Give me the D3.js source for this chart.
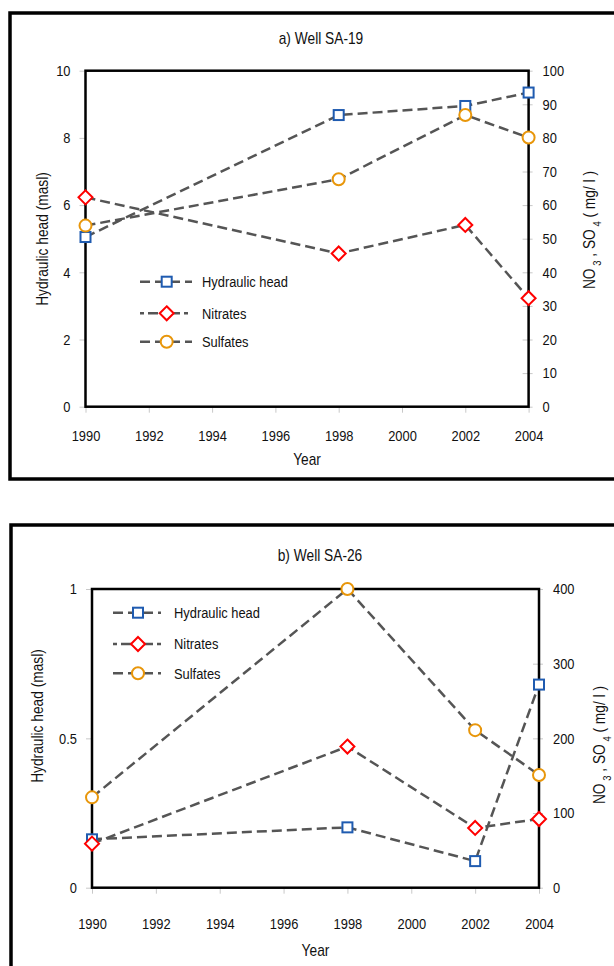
<!DOCTYPE html>
<html>
<head>
<meta charset="utf-8">
<script src="https://cdn.jsdelivr.net/npm/d3@7"></script>
<style>
  body { margin: 0; background: #fff; }
  svg text { font-family: "Liberation Sans", Arial, sans-serif; fill: #111; }
</style>
</head>
<body>
<div id="container"></div>
<script>
const years = [1990, 1998, 2002, 2004]
const yearTicks = [1990, 1992, 1994, 1996, 1998, 2000, 2002, 2004]

// a) Well SA-19
const headA = [5.05, 8.68, 8.95, 9.35]
const nitratesA = [62.3, 45.6, 54.1, 32.3]
const sulfatesA = [53.9, 67.7, 86.8, 80.1]
const headTicksA = [0, 2, 4, 6, 8, 10]
const chemTicksA = [0, 10, 20, 30, 40, 50, 60, 70, 80, 90, 100]

// b) Well SA-26
const headB = [0.162, 0.202, 0.089, 0.680]
const nitratesB = [59, 189, 80, 92]
const sulfatesB = [121, 400, 211, 151]
const headTicksB = [0, 0.5, 1]
const chemTicksB = [0, 100, 200, 300, 400]

const seriesNames = ["Hydraulic head", "Nitrates", "Sulfates"]

const width = 614
const height = 966
const lineColor = "#555"
const tickColor = "#c8c8c8"
const narrow = 0.86   // the original font is a condensed Arial

const svg = d3.create("svg")
    .attr("width", width)
    .attr("height", height)

function marker(g, kind, x, y){
    if(kind == 0){
        g.append("rect")
            .attr("x", x - 5).attr("y", y - 5)
            .attr("width", 10).attr("height", 10)
            .attr("fill", "#fff")
            .attr("stroke", "#1f5bb0")
            .attr("stroke-width", 2)
    } else if(kind == 1){
        g.append("path")
            .attr("d", `M${x},${y - 7}L${x + 7},${y}L${x},${y + 7}L${x - 7},${y}Z`)
            .attr("fill", "#fff")
            .attr("stroke", "#ff0000")
            .attr("stroke-width", 2)
    } else {
        g.append("circle")
            .attr("cx", x).attr("cy", y).attr("r", 6)
            .attr("fill", "#fff")
            .attr("stroke", "#e8960a")
            .attr("stroke-width", 2)
    }
}

function label(g, x, y, txt, size, rotate){
    return g.append("text")
        .attr("transform", `translate(${x}, ${y})${rotate ? " rotate(-90)" : ""} scale(${narrow}, 1)`)
        .style("font-size", size + "px")
        .text(txt)
}

function panel(p){
    const g = svg.append("g")

    // outer frame
    g.append("rect")
        .attr("x", p.frame[0]).attr("y", p.frame[1])
        .attr("width", p.frame[2]).attr("height", p.frame[3])
        .attr("fill", "none")
        .attr("stroke", "#000")
        .attr("stroke-width", 3.5)

    const x = d3.scaleLinear().domain([1990, 2004]).range([p.left, p.right])
    const yL = d3.scaleLinear().domain([0, p.headMax]).range([p.bottom, p.top])
    const yR = d3.scaleLinear().domain([0, p.chemMax]).range([p.bottom, p.top])

    const xAxis = g.append("g")
        .attr("transform", `translate(0, ${p.bottom})`)
        .call(d3.axisBottom(x).tickValues(yearTicks).tickFormat(d3.format("d")).tickSize(6).tickPadding(p.xPad))
    const leftAxis = g.append("g")
        .attr("transform", `translate(${p.left}, 0)`)
        .call(d3.axisLeft(yL).tickValues(p.headTicks).tickFormat(d => d).tickSize(6).tickPadding(9))
    const rightAxis = g.append("g")
        .attr("transform", `translate(${p.right}, 0)`)
        .call(d3.axisRight(yR).tickValues(p.chemTicks).tickSize(4).tickPadding(10))
    rightAxis.selectAll(".tick line").attr("x1", -6)

    for(const a of [xAxis, leftAxis, rightAxis]){
        a.select(".domain").remove()
        a.selectAll(".tick line").attr("stroke", tickColor)
        a.selectAll(".tick text")
            .style("font-size", "15px")
            .attr("fill", "#111")
            .attr("x", function(){ return (+d3.select(this).attr("x") || 0) / narrow })
            .attr("transform", `scale(${narrow}, 1)`)
    }

    // plot box
    g.append("rect")
        .attr("x", p.left).attr("y", p.top)
        .attr("width", p.right - p.left).attr("height", p.bottom - p.top)
        .attr("fill", "none")
        .attr("stroke", "#000")
        .attr("stroke-width", 2.5)

    label(g, p.titleX, p.titleY, p.title, 16).attr("text-anchor", "middle")
    label(g, (p.left + p.right) / 2, p.yearY, "Year", 16).attr("text-anchor", "middle")
    label(g, p.leftLabel[0], p.leftLabel[1], "Hydraulic head (masl)", 16, true)
        .attr("text-anchor", "middle")
        .attr("dy", "0.35em")

    const rl = label(g, p.rightLabel[0], p.rightLabel[1], null, 16, true)
        .attr("text-anchor", "middle")
        .attr("dy", "0.35em")
    rl.append("tspan").text("NO")
    rl.append("tspan").attr("dy", 6).style("font-size", "11px").text("  3")
    rl.append("tspan").attr("dy", -6).text("  ,  SO")
    rl.append("tspan").attr("dy", 6).style("font-size", "11px").text("  4")
    rl.append("tspan").attr("dy", -6).text("  ( mg/ l )")

    const series = [
        {values: p.head, y: yL},
        {values: p.nitrates, y: yR},
        {values: p.sulfates, y: yR}
    ]

    series.forEach((s, i) => {
        const line = d3.line()
            .x((d, j) => x(years[j]))
            .y(d => s.y(d))
        g.append("path")
            .attr("d", line(s.values))
            .attr("fill", "none")
            .attr("stroke", lineColor)
            .attr("stroke-width", 2.5)
            .attr("stroke-dasharray", "10,5")
        s.values.forEach((v, j) => marker(g, i, x(years[j]), s.y(v)))
    })

    // legend
    seriesNames.forEach((name, i) => {
        const ly = p.legend.ys[i]
        g.append("line")
            .attr("x1", p.legend.x1).attr("x2", p.legend.x2)
            .attr("y1", ly).attr("y2", ly)
            .attr("stroke", lineColor)
            .attr("stroke-width", 2.5)
            .attr("stroke-dasharray", i == 1 ? "4,4,10,4" : "10,5")
        marker(g, i, p.legend.mx, ly)
        label(g, p.legend.tx, ly, name, 15).attr("dy", "0.35em")
    })
}

panel({
    frame: [10, 13, 640, 466],
    left: 85.5, right: 528.6, top: 70.7, bottom: 406.7,
    headMax: 10, chemMax: 100,
    headTicks: headTicksA, chemTicks: chemTicksA,
    head: headA, nitrates: nitratesA, sulfates: sulfatesA,
    title: "a) Well SA-19", titleX: 321, titleY: 44,
    xPad: 18, yearY: 465,
    leftLabel: [42, 239], rightLabel: [589, 230],
    legend: {x1: 140, x2: 192, mx: 166.7, tx: 202, ys: [281.7, 313.3, 341.7]}
})

panel({
    frame: [11, 525, 640, 480],
    left: 92, right: 539, top: 589, bottom: 887.7,
    headMax: 1, chemMax: 400,
    headTicks: headTicksB, chemTicks: chemTicksB,
    head: headB, nitrates: nitratesB, sulfates: sulfatesB,
    title: "b) Well SA-26", titleX: 320, titleY: 561,
    xPad: 25, yearY: 956,
    leftLabel: [37, 716], rightLabel: [599, 745],
    legend: {x1: 113, x2: 161, mx: 138, tx: 174, ys: [612.7, 644, 673.3]}
})

document.querySelector("#container").appendChild(svg.node())
</script>
</body>
</html>
